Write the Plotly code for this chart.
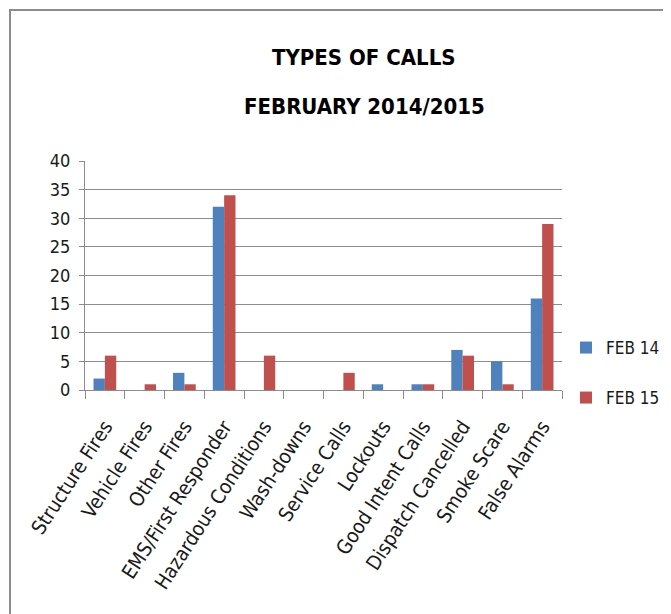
import plotly.graph_objects as go

categories = ["Structure Fires", "Vehicle Fires", "Other Fires", "EMS/First Responder",
              "Hazardous Conditions", "Wash-downs", "Service Calls", "Lockouts",
              "Good Intent Calls", "Dispatch Cancelled", "Smoke Scare", "False Alarms"]
feb14 = [2, 0, 3, 32, 0, 0, 0, 1, 1, 7, 5, 16]
feb15 = [6, 1, 1, 34, 6, 0, 3, 0, 1, 6, 1, 29]
series_names = ["FEB 14", "FEB 15"]
title_lines = ["TYPES OF CALLS", "FEBRUARY 2014/2015"]
y_ticks = [0, 5, 10, 15, 20, 25, 30, 35, 40]

FONT = "DejaVu Sans Condensed, DejaVu Sans, sans-serif"
OFF = 8  # page body margin
W, H = 671 - OFF, 614 - OFF
L, R, T, B = 85 - OFF, 109, 161 - OFF, 224
pw, ph = W - L - R, H - T - B

def px_x(x):  # reference page pixel -> paper
    return (x - OFF - L) / pw

def px_y(y):
    return (H - B - (y - OFF)) / ph

fig = go.Figure()
fig.add_trace(go.Bar(x=categories, y=feb14, name=series_names[0], marker_color="#4F81BD",
                     marker_line_width=0, legend="legend"))
fig.add_trace(go.Bar(x=categories, y=feb15, name=series_names[1], marker_color="#C0504D",
                     marker_line_width=0, legend="legend2"))

grid = "#8c8c8c"
fig.update_layout(
    width=W, height=H,
    margin=dict(l=L, r=R, t=T, b=B, autoexpand=False),
    paper_bgcolor="white", plot_bgcolor="white",
    barmode="group", bargap=0.4286, bargroupgap=0,
    font=dict(family=FONT, size=18, color="#1a1a1a"),
    xaxis=dict(tickangle=-57, tickfont=dict(size=20), showline=True, linecolor=grid,
               linewidth=1, ticks="outside", tickson="boundaries", ticklen=8,
               tickcolor=grid, showgrid=False, ticklabelstandoff=16),
    yaxis=dict(range=[0, 40], tickvals=y_ticks, showgrid=True, gridcolor=grid, gridwidth=1,
               showline=True, linecolor=grid, ticks="outside", ticklen=5, tickcolor=grid,
               zeroline=False, tickfont=dict(size=18), ticklabelstandoff=5),
    legend=dict(x=px_x(566), y=px_y(348), xanchor="left", yanchor="middle",
                font=dict(size=17), bgcolor="rgba(0,0,0,0)", itemwidth=30),
    legend2=dict(x=px_x(566), y=px_y(398), xanchor="left", yanchor="middle",
                 font=dict(size=17), bgcolor="rgba(0,0,0,0)", itemwidth=30),
    showlegend=True,
)

fig.add_annotation(text="<b>%s</b>" % title_lines[0], xref="paper", yref="paper",
                   x=px_x(364), y=px_y(58), showarrow=False, xanchor="center", yanchor="middle",
                   font=dict(size=22, color="black", family=FONT))
fig.add_annotation(text="<b>%s</b>" % title_lines[1], xref="paper", yref="paper",
                   x=px_x(364), y=px_y(106), showarrow=False, xanchor="center", yanchor="middle",
                   font=dict(size=22, color="black", family=FONT))

fig.add_shape(type="rect", xref="paper", yref="paper",
              x0=px_x(10), y0=px_y(700), x1=px_x(760), y1=px_y(10),
              line=dict(color="#8c8c8c", width=2), fillcolor="rgba(0,0,0,0)", layer="below")

fig.write_html("out.html")
